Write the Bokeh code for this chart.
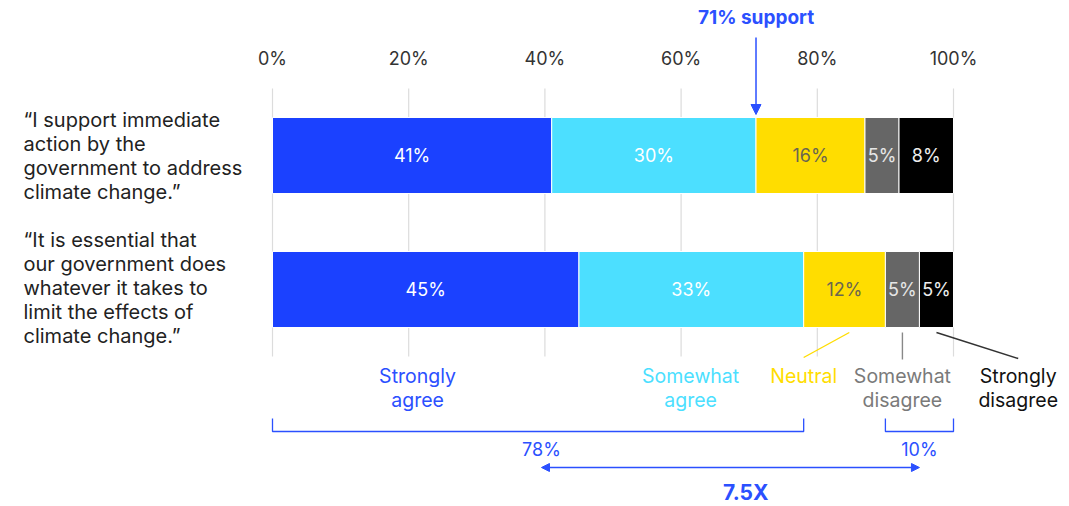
import numpy as np
from bokeh.plotting import figure
from bokeh.models import Range1d, ColumnDataSource, Arrow, NormalHead
from bokeh.core.properties import value
from bokeh.embed import file_html
from bokeh.resources import INLINE

# ---------------- data ----------------
categories = ["Strongly agree", "Somewhat agree", "Neutral", "Somewhat disagree", "Strongly disagree"]
statements = [
    "\u201cI support immediate\naction by the\ngovernment to address\nclimate change.\u201d",
    "\u201cIt is essential that\nour government does\nwhatever it takes to\nlimit the effects of\nclimate change.\u201d",
]
row_immediate = [41, 30, 16, 5, 8]
row_essential = [45, 33, 12, 5, 5]
tick_values = [0, 20, 40, 60, 80, 100]
tick_labels = ["0%", "20%", "40%", "60%", "80%", "100%"]
support_label = "71% support"
ratio_label = "7.5X"

# ---------------- styles / layout ----------------
FONT = value("Inter")
seg_colors = ["#1B41FF", "#4CDFFF", "#FFDD00", "#666666", "#000000"]
seg_text_colors = ["#ffffff", "#ffffff", "#6a6650", "#e6e6e6", "#eeeeee"]
legend_colors = ["#2B50FF", "#4CDFFF", "#FFDD00", "#7a7a7a", "#111111"]
BLUE = "#2B50FF"
W, H = 1069, 506
X0, X100 = 272, 953
pxu = (X100 - X0) / 100.0
row_y = [155, 289]
bar_h = 76

p = figure(width=W, height=H,
           x_range=Range1d(-X0 / pxu, 100 + (W - X100) / pxu),
           y_range=Range1d(H, 0),
           output_backend="svg", toolbar_location=None,
           x_axis_location=None, y_axis_location=None, min_border=0)
p.grid.visible = False
p.outline_line_color = None
p.background_fill_color = "white"
p.border_fill_color = "white"

# grid lines
p.segment(x0=tick_values, x1=tick_values, y0=[88] * len(tick_values), y1=[356] * len(tick_values),
          line_color="#dcdcdc", line_width=1.2)
# tick labels
p.text(x=tick_values, y=[58] * len(tick_values), text=tick_labels, text_font=FONT,
       text_font_size="18px", text_color="#333333", text_align="center", text_baseline="middle")

# bars
rows = [row_immediate, row_essential]
lefts, rights, ys, cols, mids, labs, tcols = [], [], [], [], [], [], []
for r, vals in enumerate(rows):
    cum = np.concatenate([[0], np.cumsum(vals)])
    for i, v in enumerate(vals):
        lefts.append(cum[i]); rights.append(cum[i + 1]); ys.append(row_y[r])
        cols.append(seg_colors[i]); mids.append((cum[i] + cum[i + 1]) / 2)
        labs.append(f"{v}%"); tcols.append(seg_text_colors[i])
src = ColumnDataSource(dict(left=lefts, right=rights, y=ys, color=cols, mid=mids, lab=labs, tcol=tcols))
p.hbar(y="y", left="left", right="right", height=bar_h, fill_color="color",
       line_color="white", line_width=1, source=src)
p.text(x="mid", y="y", text="lab", text_color="tcol", text_font=FONT, text_font_size="18px",
       text_align="center", text_baseline="middle", source=src)

# statements
p.text(x=[(23 - X0) / pxu] * 2, y=[155, 287], text=statements,
       text_font=FONT, text_font_size="20px", text_color="#222222", text_align="left",
       text_baseline="middle", text_line_height=1.0)

# 71% support
support_x = row_immediate[0] + row_immediate[1]
p.text(x=[support_x], y=[17], text=[support_label], text_font=FONT, text_font_size="19px",
       text_font_style="bold", text_color=BLUE, text_align="center", text_baseline="middle")
p.add_layout(Arrow(end=NormalHead(size=10, fill_color=BLUE, line_color=BLUE),
                   x_start=support_x, y_start=37, x_end=support_x, y_end=114,
                   line_color=BLUE, line_width=1.5))

# category legend labels
leg_x = [21.3, 61.4, 78.0, 92.5, 109.5]
leg_y = [387, 387, 375, 387, 387]
leg_text = ["Strongly\nagree", "Somewhat\nagree", "Neutral", "Somewhat\ndisagree", "Strongly\ndisagree"]
p.text(x=leg_x, y=leg_y, text=leg_text, text_color=legend_colors, text_font=FONT,
       text_font_size="19.5px", text_align="center", text_baseline="middle", text_line_height=1.0)

# leader lines from second bar
cum2 = np.concatenate([[0], np.cumsum(row_essential)])
lead_start = [(cum2[i] + cum2[i + 1]) / 2 for i in (2, 3, 4)]
lead_start[0] += 0.7
p.segment(x0=lead_start, y0=[332] * 3, x1=[leg_x[2], leg_x[3], leg_x[4]], y1=[357, 359, 358],
          line_color=["#FFDD00", "#888888", "#333333"], line_width=1.4)

# brackets
agree_total = row_essential[0] + row_essential[1]
disagree_total = row_essential[3] + row_essential[4]
dis_start = 100 - disagree_total
p.multi_line(xs=[[0, 0, agree_total, agree_total], [dis_start, dis_start, 100, 100]],
             ys=[[418, 431, 431, 418], [418, 431, 431, 418]], line_color=BLUE, line_width=1.3)
p.text(x=[agree_total / 2 + 0.5, (dis_start + 100) / 2], y=[449, 449],
       text=[f"{agree_total}%", f"{disagree_total}%"], text_color=BLUE, text_font=FONT,
       text_font_size="18px", text_align="center", text_baseline="middle")
p.add_layout(Arrow(start=NormalHead(size=8, fill_color=BLUE, line_color=BLUE),
                   end=NormalHead(size=8, fill_color=BLUE, line_color=BLUE),
                   x_start=agree_total / 2 + 0.5, y_start=467, x_end=(dis_start + 100) / 2, y_end=467,
                   line_color=BLUE, line_width=1.5))
p.text(x=[69.5], y=[492], text=[ratio_label], text_color=BLUE, text_font=FONT,
       text_font_size="21px", text_font_style="bold", text_align="center", text_baseline="middle")

open("out.html", "w").write(file_html(p, INLINE))
